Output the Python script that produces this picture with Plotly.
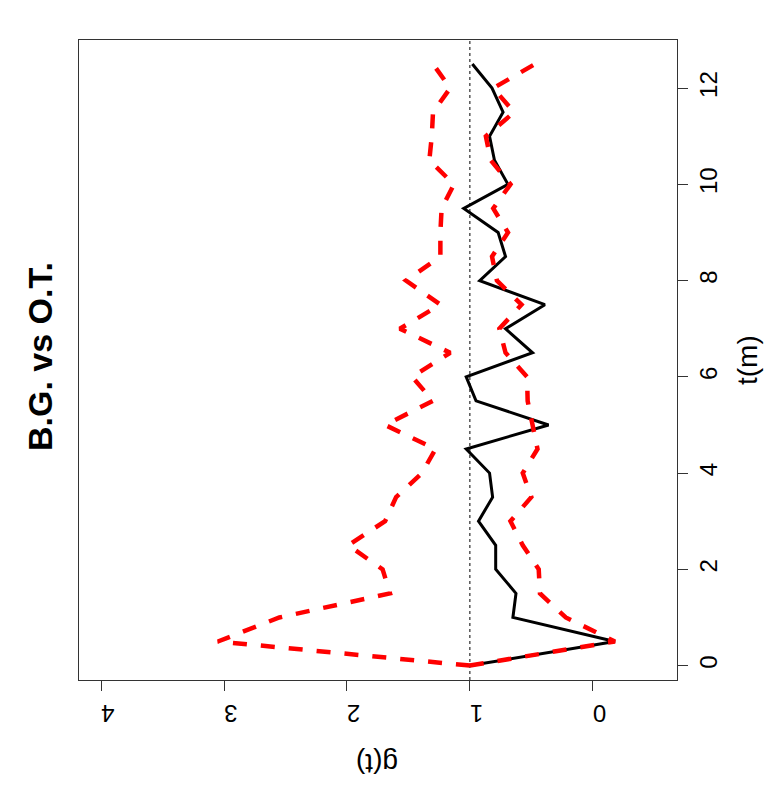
import plotly.graph_objects as go

# lag (months) and g(t) curves
t_m = [0, 0.5, 1, 1.5, 2, 2.5, 3, 3.5, 4, 4.5, 5, 5.5, 6, 6.5,
       7, 7.5, 8, 8.5, 9, 9.5, 10, 10.5, 11, 11.5, 12, 12.5]
g_obs = [1.0, -0.18, 0.65, 0.625, 0.79, 0.79, 0.93, 0.815, 0.84, 1.03, 0.36, 0.95, 1.03, 0.49,
         0.71, 0.39, 0.92, 0.71, 0.77, 1.05, 0.69, 0.80, 0.84, 0.73, 0.82, 0.98]
g_upper = [1.0, 3.05, 2.55, 1.65, 1.71, 1.99, 1.69, 1.60, 1.39, 1.28, 1.69, 1.30, 1.47, 1.16,
           1.57, 1.24, 1.52, 1.24, 1.24, 1.23, 1.13, 1.33, 1.31, 1.30, 1.16, 1.30]
g_lower = [1.0, -0.18, 0.22, 0.43, 0.44, 0.57, 0.67, 0.50, 0.57, 0.45, 0.49, 0.53, 0.535, 0.71,
           0.76, 0.58, 0.78, 0.82, 0.69, 0.81, 0.67, 0.83, 0.87, 0.64, 0.81, 0.47]

g_ticks = [0, 1, 2, 3, 4]
t_ticks = [0, 2, 4, 6, 8, 10, 12]

FONT = "Liberation Sans, Arial, Helvetica, sans-serif"
RED = "#ff0000"
# the page body has an 8px margin, so the figure is sized to fit inside it
OFF = 8
W, H = 761, 784
ML, MT = 79 - OFF, 40 - OFF
MR = W + OFF - 677
MB = H + OFF - 680

fig = go.Figure()
fig.add_trace(go.Scatter(x=g_obs, y=t_m, mode="lines",
                         line=dict(color="black", width=3)))
for g in (g_upper, g_lower):
    fig.add_trace(go.Scatter(x=g, y=t_m, mode="lines",
                             line=dict(color=RED, width=4.5, dash="14px,14px")))

# reference line g(t) = 1
fig.add_shape(type="line", xref="x", yref="paper", x0=1, x1=1, y0=0, y1=1,
              line=dict(color="black", width=1, dash="dot"), layer="below")

fig.update_layout(
    width=W, height=H,
    margin=dict(l=ML, r=MR, t=MT, b=MB, autoexpand=False),
    paper_bgcolor="white", plot_bgcolor="white",
    showlegend=False,
    font=dict(family=FONT, color="black"),
    xaxis=dict(range=[4.18, -0.685], tickvals=g_ticks, ticktext=[str(v) for v in g_ticks],
               tickangle=180, ticks="outside", ticklen=10, tickcolor="#333",
               ticklabelstandoff=9,
               tickfont=dict(size=24), showgrid=False, zeroline=False,
               showline=True, linecolor="#333", linewidth=1, mirror=True),
    yaxis=dict(range=[-0.3, 13.0], side="right", tickvals=t_ticks,
               ticktext=[str(v) for v in t_ticks],
               tickangle=-90, ticks="outside", ticklen=10, tickcolor="#333",
               tickfont=dict(size=24), showgrid=False, zeroline=False,
               showline=True, linecolor="#333", linewidth=1, mirror=True),
)

# title and axis titles, rotated like the source (page pixels -> paper coords)
plot_w = W - ML - MR
plot_h = H - MT - MB


def px_x(x):
    return (x - OFF - ML) / plot_w


def px_y(y):
    return (H - MB - (y - OFF)) / plot_h


fig.add_annotation(text="<b>B.G. vs O.T.</b>", x=px_x(40), y=px_y(357), xref="paper", yref="paper",
                   showarrow=False, textangle=-90, font=dict(size=34),
                   xanchor="center", yanchor="middle")
fig.add_annotation(text="t(m)", x=px_x(747), y=px_y(360), xref="paper", yref="paper",
                   showarrow=False, textangle=-90, font=dict(size=28),
                   xanchor="center", yanchor="middle")
fig.add_annotation(text="g(t)", x=px_x(377), y=px_y(764), xref="paper", yref="paper",
                   showarrow=False, textangle=180, font=dict(size=28),
                   xanchor="center", yanchor="middle")

fig.write_html("out.html")
